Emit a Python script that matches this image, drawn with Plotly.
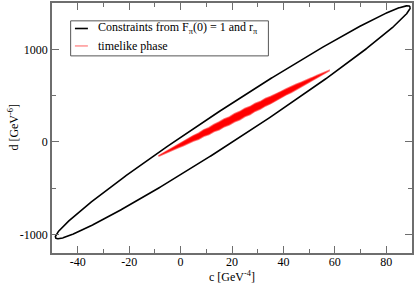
import numpy as np
import plotly.graph_objects as go

# --- data ---
# constraint ellipse (centre, semi-extents, tilt) in (c, d) units
ell_center = (20.3, 212.0)
ell_rc = 69.0
ell_rd = 1258.0
ell_phi = 0.169

# timelike-phase band: centre line and upper/lower half widths
band_c = [-8.6, -7, -5, -3, -1, 1, 3, 5, 7, 9, 11, 13, 15, 17, 19, 21, 23, 25, 27, 29, 31, 33, 35,
          37, 39, 41, 43, 45, 47, 49, 51, 53, 55, 57.8]
band_mid = [-153, -131, -103, -75, -47, -19, 8, 36, 64, 92, 119, 147, 175, 203, 231, 258, 286, 314,
            342, 370, 397, 425, 453, 481, 509, 536, 564, 592, 620, 648, 675, 703, 731, 770]
band_up = [2, 6, 12, 14, 20, 24, 24, 32, 30, 38, 34, 42, 40, 45, 38, 46, 42, 47, 40, 45, 39, 44, 37,
           40, 34, 36, 29, 30, 24, 24, 17, 15, 10, 2]
band_lo = [2, 5, 9, 15, 17, 22, 27, 27, 35, 32, 40, 36, 44, 39, 46, 41, 47, 41, 46, 39, 43, 37, 40,
           33, 36, 29, 31, 25, 26, 19, 18, 12, 8, 2]

x_range = [-50, 90]
y_range = [-1200, 1500]
x_ticks = [-40, -20, 0, 20, 40, 60, 80]
x_ticklabels = ["-40", "-20", "0", "20", "40", "60", "80"]
y_ticks = [-1000, 0, 1000]
y_ticklabels = ["-1000", "0", "1000"]

legend_names = ["Constraints from F<sub>π</sub>(0) = 1 and r<sub>π</sub>", "timelike phase"]
x_title = "c [GeV<sup>-4</sup>]"
y_title = "d [GeV<sup>-6</sup>]"

# --- build figure ---
t = np.linspace(0, 2 * np.pi, 721)
ell_c = ell_center[0] + ell_rc * np.cos(t)
ell_d = ell_center[1] + ell_rd * np.cos(t - ell_phi)

bc = np.array(band_c, float)
bm = np.array(band_mid, float)
poly_c = np.concatenate([bc, bc[::-1]])
poly_d = np.concatenate([bm + np.array(band_up), (bm - np.array(band_lo))[::-1]])

fig = go.Figure()
fig.add_trace(go.Scatter(x=ell_c, y=ell_d, mode="lines",
                         line=dict(color="black", width=1.6),
                         name=legend_names[0], showlegend=False, hoverinfo="skip"))
fig.add_trace(go.Scatter(x=poly_c, y=poly_d, mode="lines", fill="toself",
                         fillcolor="#ff0000", line=dict(color="rgba(255,40,40,0.6)", width=1.5),
                         name=legend_names[1], showlegend=False, hoverinfo="skip"))

W, H = 415, 286
L, R, T, B = 52, 2, 1, 33
pw, ph = W - L - R, H - T - B

def px(x):
    return (x - L) / pw

def py(y):
    return (H - B - y) / ph

font = "Liberation Serif"
axcol = "#6e6e6e"

common = dict(showgrid=False, zeroline=False, showline=True, linecolor=axcol, linewidth=1.5,
              mirror="allticks", ticks="inside", ticklen=7, tickwidth=1.2, tickcolor=axcol,
              tickfont=dict(family=font, size=12, color="black"))

fig.update_xaxes(range=x_range, tickvals=x_ticks, ticktext=x_ticklabels, ticklabelstandoff=-3, **common,
                 minor=dict(dtick=10, ticklen=4, tickcolor=axcol, ticks="inside", tickwidth=1.2))
fig.update_yaxes(range=y_range, tickvals=y_ticks, ticktext=y_ticklabels, **common,
                 minor=dict(dtick=500, ticklen=4, tickcolor=axcol, ticks="inside", tickwidth=1.2))

shapes = [
    dict(type="rect", xref="paper", yref="paper", x0=px(70.7), x1=px(269), y0=py(54.3), y1=py(19),
         line=dict(color="#555555", width=1), fillcolor="white", layer="above"),
    dict(type="line", xref="paper", yref="paper", x0=px(75), x1=px(88), y0=py(26.7), y1=py(26.7),
         line=dict(color="black", width=1.6), layer="above"),
    dict(type="line", xref="paper", yref="paper", x0=px(75), x1=px(88), y0=py(44.3), y1=py(44.3),
         line=dict(color="#ff6060", width=1), layer="above"),
]
annotations = [
    dict(text=legend_names[0], xref="paper", yref="paper", x=px(96.5), y=py(26.7),
         xanchor="left", yanchor="middle", showarrow=False, font=dict(family=font, size=12, color="black")),
    dict(text=legend_names[1], xref="paper", yref="paper", x=px(96.5), y=py(44.3),
         xanchor="left", yanchor="middle", showarrow=False, font=dict(family=font, size=12, color="black")),
    dict(text=x_title, xref="paper", yref="paper", x=px(232), y=py(277),
         xanchor="center", yanchor="middle", showarrow=False, font=dict(family=font, size=12, color="black")),
    dict(text=y_title, xref="paper", yref="paper", x=px(12.5), y=py(126),
         xanchor="center", yanchor="middle", textangle=-90, showarrow=False,
         font=dict(family=font, size=12, color="black")),
]

fig.update_layout(width=W, height=H, margin=dict(l=L, r=R, t=T, b=B),
                  paper_bgcolor="white", plot_bgcolor="white", showlegend=False,
                  font=dict(family=font, size=12, color="black"),
                  shapes=shapes, annotations=annotations)
fig.write_html("out.html", config={"displayModeBar": False},
               post_script="document.body.style.margin='0';document.body.style.overflow='hidden';")
